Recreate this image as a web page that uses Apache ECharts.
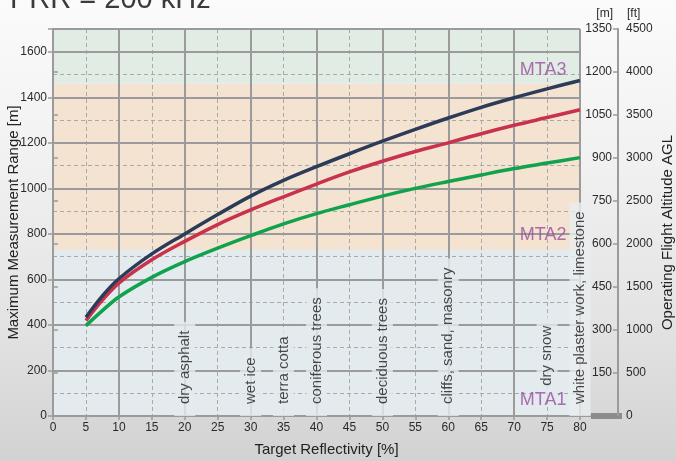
<!DOCTYPE html>
<html><head><meta charset="utf-8">
<script src="https://cdn.jsdelivr.net/npm/echarts@6/dist/echarts.min.js"></script>
<style>
html,body{margin:0;padding:0;}
#c{width:676px;height:461px;background:linear-gradient(to bottom,#fbfbfb 0%,#f1f1f1 35%,#e3e3e3 70%,#d2d2d2 100%);}
</style></head><body><div id="c"></div>
<script>
// ---- data ----
const reflectivity = [5, 7.5, 10, 15, 20, 25, 30, 35, 40, 45, 50, 55, 60, 65, 70, 75, 80];
const rangeNavy  = [434, 528, 603, 712, 800, 885, 966, 1035, 1095, 1152, 1207, 1259, 1309, 1356, 1398, 1437, 1474];
const rangeRed   = [419, 509, 584, 686, 767, 841, 905, 963, 1019, 1072, 1119, 1162, 1200, 1240, 1277, 1311, 1345];
const rangeGreen = [397, 463, 523, 609, 678, 737, 792, 844, 889, 928, 966, 1000, 1030, 1059, 1087, 1111, 1135];
const materialNames = ['dry asphalt', 'wet ice', 'terra cotta', 'coniferous trees', 'deciduous trees', 'cliffs, sand, masonry', 'dry snow', 'white plaster work, limestone'];
const materialReflectivity = [20, 30, 35, 40, 50, 60, 75, 80];
const zoneNames = ['MTA1', 'MTA2', 'MTA3'];
const zoneBounds = [0, 730, 1460, 1700];
const rangeAxis = { min: 0, max: 1700, major: 200, minor: 100 };
const reflAxis = { min: 0, max: 80, major: 10, minor: 5 };
const altitudeM = { min: 0, max: 1350, step: 150 };
const altitudeFt = { min: 0, max: 4500, step: 500 };
const titleText = 'PRR = 200 kHz';

// ---- styles ----
const FONT = 'Liberation Sans, Arial, sans-serif';
const solidGrid = { color: '#9b9b9b', width: 2 };
const dashGrid = { color: '#a9a9a9', width: 1, type: [4, 3] };
const zoneColors = ['#e4ebef', '#f4e3d0', '#e1ece4'];
const txt = '#2a2a2a';

const chart = echarts.init(document.getElementById('c'), null, { renderer: 'canvas' });
const pairs = ys => reflectivity.map((x, i) => [x, ys[i]]);
const plain = v => String(v);

const option = {
  animation: false,
  textStyle: { fontFamily: FONT },
  grid: { left: 53, right: 96, top: 29, bottom: 45, containLabel: false, outerBoundsMode: 'none' },
  xAxis: [
    { type: 'value', min: reflAxis.min, max: reflAxis.max, interval: reflAxis.minor, position: 'bottom', z: 2.1,
      axisLine: { show: true, onZero: false, lineStyle: { color: '#9b9b9b', width: 2 } },
      axisTick: { show: true, length: 4, lineStyle: { color: '#9b9b9b', width: 1.5 } },
      axisLabel: { fontSize: 12, color: txt, margin: 6, fontFamily: FONT, formatter: plain },
      splitLine: { show: true, lineStyle: dashGrid },
      name: 'Target Reflectivity [%]', nameLocation: 'middle', nameGap: 26, nameMoveOverlap: false,
      nameTextStyle: { fontSize: 15, color: '#222', padding: [0, 0, 0, 20], fontFamily: FONT } },
    { type: 'value', min: reflAxis.min, max: reflAxis.max, interval: reflAxis.major, position: 'bottom', z: 2.2,
      axisLine: { show: false }, axisTick: { show: false }, axisLabel: { show: false },
      splitLine: { show: true, lineStyle: solidGrid } }
  ],
  yAxis: [
    { type: 'value', min: rangeAxis.min, max: rangeAxis.max, interval: rangeAxis.major, position: 'left', z: 2.2,
      axisLine: { show: true, onZero: false, lineStyle: { color: '#9b9b9b', width: 2 } },
      axisTick: { show: true, length: 5, lineStyle: { color: '#9b9b9b', width: 1.5 } },
      axisLabel: { fontSize: 12, color: txt, margin: 6, fontFamily: FONT,
        formatter: v => (v % rangeAxis.major === 0 ? String(v) : '') },
      splitLine: { show: true, lineStyle: solidGrid },
      name: 'Maximum Measurement Range [m]', nameLocation: 'middle', nameGap: 32, nameMoveOverlap: false,
      nameTextStyle: { fontSize: 15, color: '#222', fontFamily: FONT } },
    { type: 'value', min: rangeAxis.min, max: rangeAxis.max, interval: rangeAxis.minor, position: 'left', z: 2.1,
      axisLine: { show: false }, axisTick: { show: false }, axisLabel: { show: false },
      splitLine: { show: true, lineStyle: dashGrid } },
    { type: 'value', min: altitudeM.min, max: altitudeM.max, interval: altitudeM.step, position: 'right', offset: 38, z: 2.2,
      axisLine: { show: true, onZero: false, lineStyle: { color: '#9b9b9b', width: 2 } },
      axisTick: { show: true, inside: true, length: 5, lineStyle: { color: '#9b9b9b', width: 1.5 } },
      axisLabel: { inside: true, margin: 6, fontSize: 12, color: txt, showMinLabel: false, fontFamily: FONT, formatter: plain },
      splitLine: { show: false },
      name: '[m]', nameLocation: 'end', nameGap: 9, nameMoveOverlap: false,
      nameTextStyle: { fontSize: 12, color: txt, align: 'right', padding: [0, 5, 0, 0], fontFamily: FONT } },
    { type: 'value', min: altitudeFt.min, max: altitudeFt.max, interval: altitudeFt.step, position: 'right', offset: 38, z: 2.2,
      axisLine: { show: false },
      axisTick: { show: true, length: 5, lineStyle: { color: '#9b9b9b', width: 1.5 } },
      axisLabel: { margin: 8, fontSize: 12, color: txt, fontFamily: FONT, formatter: plain },
      splitLine: { show: false },
      name: 'Operating Flight Altitude AGL', nameLocation: 'middle', nameGap: 42, nameMoveOverlap: false,
      nameTextStyle: { fontSize: 15, color: '#222', padding: [0, 20, 0, 0], fontFamily: FONT } },
    { type: 'value', min: altitudeFt.min, max: altitudeFt.max, interval: altitudeFt.step, position: 'right', offset: 38, z: 2.2,
      axisLine: { show: false }, axisTick: { show: false }, axisLabel: { show: false }, splitLine: { show: false },
      name: '[ft]', nameLocation: 'end', nameGap: 9, nameMoveOverlap: false,
      nameTextStyle: { fontSize: 12, color: txt, align: 'left', padding: [0, 0, 0, 9], fontFamily: FONT } }
  ],
  series: [
    { type: 'line', name: 'green', data: pairs(rangeGreen), smooth: 0.35, symbol: 'none', z: 6,
      lineStyle: { color: '#10a24c', width: 3.5 }, silent: true,
      markArea: { silent: true,
        data: zoneNames.map((n, i) => [
          { xAxis: reflAxis.min, yAxis: zoneBounds[i], itemStyle: { color: zoneColors[i] } },
          { xAxis: reflAxis.max, yAxis: zoneBounds[i + 1] }
        ]) } },
    { type: 'line', name: 'red', data: pairs(rangeRed), smooth: 0.35, symbol: 'none', z: 6,
      lineStyle: { color: '#c9314c', width: 3.5 }, silent: true },
    { type: 'line', name: 'navy', data: pairs(rangeNavy), smooth: 0.35, symbol: 'none', z: 6,
      lineStyle: { color: '#2c3c58', width: 3.5 }, silent: true },
    { type: 'scatter', name: 'materials', z: 4, symbolSize: 1, clip: false, silent: true,
      itemStyle: { color: 'rgba(0,0,0,0)' },
      data: materialReflectivity.map((x, i) => {
        const d = { value: [x, rangeAxis.min], name: materialNames[i] };
        if (materialNames[i] === 'dry snow') d.value = [x, 80];
        if (i === materialNames.length - 1) d.label = { backgroundColor: '#e9edef' };
        return d;
      }),
      label: { show: true, formatter: p => p.name, position: 'inside', rotate: 90, align: 'left', verticalAlign: 'middle',
        fontSize: 15, color: '#1d1d1d', backgroundColor: zoneColors[0], padding: [3, 9, 3, 12], fontFamily: FONT } },
    { type: 'scatter', name: 'zones', z: 4, symbolSize: 1, clip: false, silent: true,
      itemStyle: { color: 'rgba(0,0,0,0)' },
      data: [
        { value: [74.4, 70], name: zoneNames[0] },
        { value: [74.4, 796], name: zoneNames[1] },
        { value: [74.4, 1521], name: zoneNames[2] }
      ],
      label: { show: true, formatter: p => p.name, position: 'inside', align: 'center', verticalAlign: 'middle',
        fontSize: 18, color: '#9a4c9e', fontFamily: FONT } }
  ]
};
chart.setOption(option);

const corner = chart.convertToPixel({ xAxisIndex: 0, yAxisIndex: 0 }, [reflAxis.max, rangeAxis.min]);
chart.setOption({
  graphic: [
    { type: 'text', left: 10, top: -15, z: 10,
      style: { text: titleText, fontSize: 29, fill: '#3a3a3a', fontFamily: FONT } },
    { type: 'line', z: 3, shape: { x1: corner[0], y1: corner[1], x2: corner[0] + 12, y2: corner[1] },
      style: { stroke: '#9b9b9b', lineWidth: 2 } },
    { type: 'rect', z: 3, shape: { x: corner[0] + 11, y: corner[1] - 3, width: 31, height: 6 },
      style: { fill: '#8c8c8c' } },
    { type: 'line', z: 3, shape: { x1: corner[0] + 38, y1: corner[1], x2: corner[0] + 38, y2: chart.convertToPixel({ yAxisIndex: 0 }, rangeAxis.max) },
      style: { stroke: '#9b9b9b', lineWidth: 2 } }
  ]
});
</script></body></html>
